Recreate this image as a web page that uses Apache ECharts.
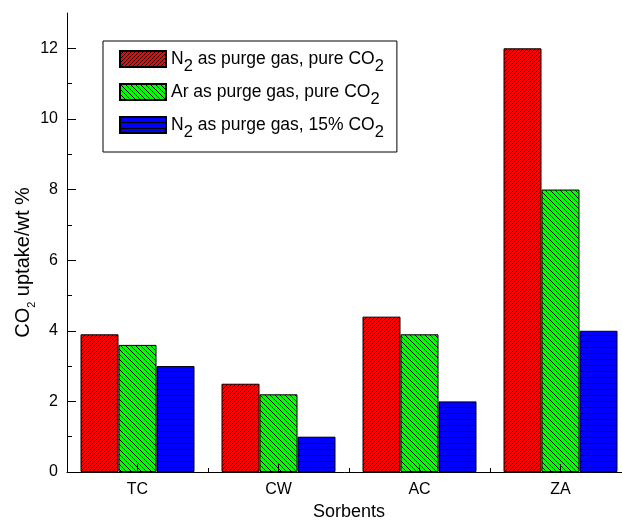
<!DOCTYPE html>
<html>
<head>
<meta charset="utf-8">
<script src="https://cdn.jsdelivr.net/npm/echarts@6/dist/echarts.min.js"></script>
<style>
  html, body { margin: 0; padding: 0; background: #fff; }
  #chart { width: 622px; height: 520px; }
</style>
</head>
<body>
<div id="chart"></div>
<script>
// CO2 uptake of four sorbents under three purge / feed conditions (wt %)
const sorbents = ['TC', 'CW', 'AC', 'ZA'];
const n2PureCO2 = [3.9, 2.5, 4.4, 12.0];
const arPureCO2 = [3.6, 2.2, 3.9, 8.0];
const n2DiluteCO2 = [3.0, 1.0, 2.0, 4.0];
const yTickValues = [0, 2, 4, 6, 8, 10, 12];
const seriesNames = [
  'N2 as purge gas, pure CO2',
  'Ar as purge gas, pure CO2',
  'N2 as purge gas, 15% CO2'
];

const FONT = '"Liberation Sans", Arial, Helvetica, sans-serif';

// Hatch tiles painted pixel by pixel so the stripes stay crisp
function hatchTile(size, fill, isLine) {
  const c = document.createElement('canvas');
  c.width = size; c.height = size;
  const ctx = c.getContext('2d');
  ctx.fillStyle = fill;
  ctx.fillRect(0, 0, size, size);
  ctx.fillStyle = '#000';
  for (let y = 0; y < size; y++) {
    for (let x = 0; x < size; x++) {
      if (isLine(x, y, size)) ctx.fillRect(x, y, 1, 1);
    }
  }
  return { image: c, repeat: 'repeat' };
}
const redHatch = hatchTile(4, '#ff0000', (x, y, s) => (x + y) % s === s - 1);
const greenHatch = hatchTile(5, '#00ff00', (x, y, s) => {
  const d = ((x - y) % s + s) % s;
  return d === 0;
});
const blueHatch = hatchTile(6, '#0000ff', (x, y) => y === 5);

// Wrap text so "N2" / "CO2" get a dropped subscript 2
function withSubscripts(str) {
  const parts = str.replace(/(N|CO)2/g, '$1\u0001').split('\u0001');
  let out = '';
  parts.forEach((p, i) => {
    if (p) out += '{n|' + p + '}';
    if (i < parts.length - 1) out += '{s|2}';
  });
  return out;
}

const chart = echarts.init(document.getElementById('chart'));

const hatches = [redHatch, greenHatch, blueHatch];
const values = [n2PureCO2, arPureCO2, n2DiluteCO2];

chart.setOption({
  animation: false,
  backgroundColor: '#fff',
  grid: { left: 67, top: 13, width: 564, height: 459, containLabel: false, outerBoundsMode: 'none' },
  legend: {
    orient: 'vertical',
    left: 103,
    top: 41,
    padding: [2, 13, 11, 16],
    itemWidth: 46,
    itemHeight: 16,
    itemGap: 1,
    icon: 'rect',
    borderColor: '#000',
    borderWidth: 1,
    backgroundColor: '#fff',
    formatter: withSubscripts,
    textStyle: {
      color: '#000',
      fontFamily: FONT,
      fontSize: 17.5,
      rich: {
        n: { color: '#000', fontFamily: FONT, fontSize: 17.5, lineHeight: 20, padding: [7, 0, 7, 0] },
        s: { color: '#000', fontFamily: FONT, fontSize: 16.5, lineHeight: 20, padding: [14, 0, 0, 0] }
      }
    },
    data: seriesNames
  },
  xAxis: [
    {
      type: 'category',
      data: sorbents,
      z: 5,
      name: 'Sorbents',
      nameLocation: 'middle',
      nameGap: 31,
      nameMoveOverlap: false,
      nameTextStyle: { color: '#000', fontFamily: FONT, fontSize: 18 },
      axisLine: { show: true, lineStyle: { color: '#000', width: 1 } },
      axisTick: { show: true, inside: true, length: 8, alignWithLabel: true, lineStyle: { color: '#000' } },
      axisLabel: { color: '#000', fontFamily: FONT, fontSize: 16, margin: 10 },
      splitLine: { show: false }
    },
    {
      type: 'category',
      data: sorbents,
      position: 'bottom',
      z: 5,
      axisLine: { show: false },
      axisTick: { show: true, inside: true, length: 4, lineStyle: { color: '#000' } },
      axisLabel: { show: false },
      splitLine: { show: false }
    }
  ],
  yAxis: {
    type: 'value',
    min: 0,
    max: 13,
    interval: 2,
    z: 5,
    name: '{n|CO}{s|2}{n| uptake/wt %}',
    nameLocation: 'middle',
    nameGap: 33,
    nameMoveOverlap: false,
    nameTextStyle: {
      color: '#000',
      fontFamily: FONT,
      fontSize: 20,
      padding: [0, 40, 0, 0],
      rich: {
        n: { color: '#000', fontFamily: FONT, fontSize: 20, lineHeight: 22, padding: [4, 0, 4, 0] },
        s: { color: '#000', fontFamily: FONT, fontSize: 11, lineHeight: 12, padding: [18, 0, 0, 0] }
      }
    },
    axisLine: { show: true, lineStyle: { color: '#000', width: 1 } },
    axisTick: { show: true, inside: true, length: 9, lineStyle: { color: '#000' }, customValues: yTickValues },
    minorTick: { show: true, splitNumber: 2, length: 5, lineStyle: { color: '#000' } },
    axisLabel: { color: '#000', fontFamily: FONT, fontSize: 16, margin: 9, customValues: yTickValues },
    splitLine: { show: false }
  },
  series: seriesNames.map((name, i) => ({
    name: name,
    type: 'bar',
    xAxisIndex: 0,
    barWidth: 38,
    barGap: '0%',
    data: values[i],
    itemStyle: { color: hatches[i], borderColor: '#000', borderWidth: 1 }
  }))
});
</script>
</body>
</html>
